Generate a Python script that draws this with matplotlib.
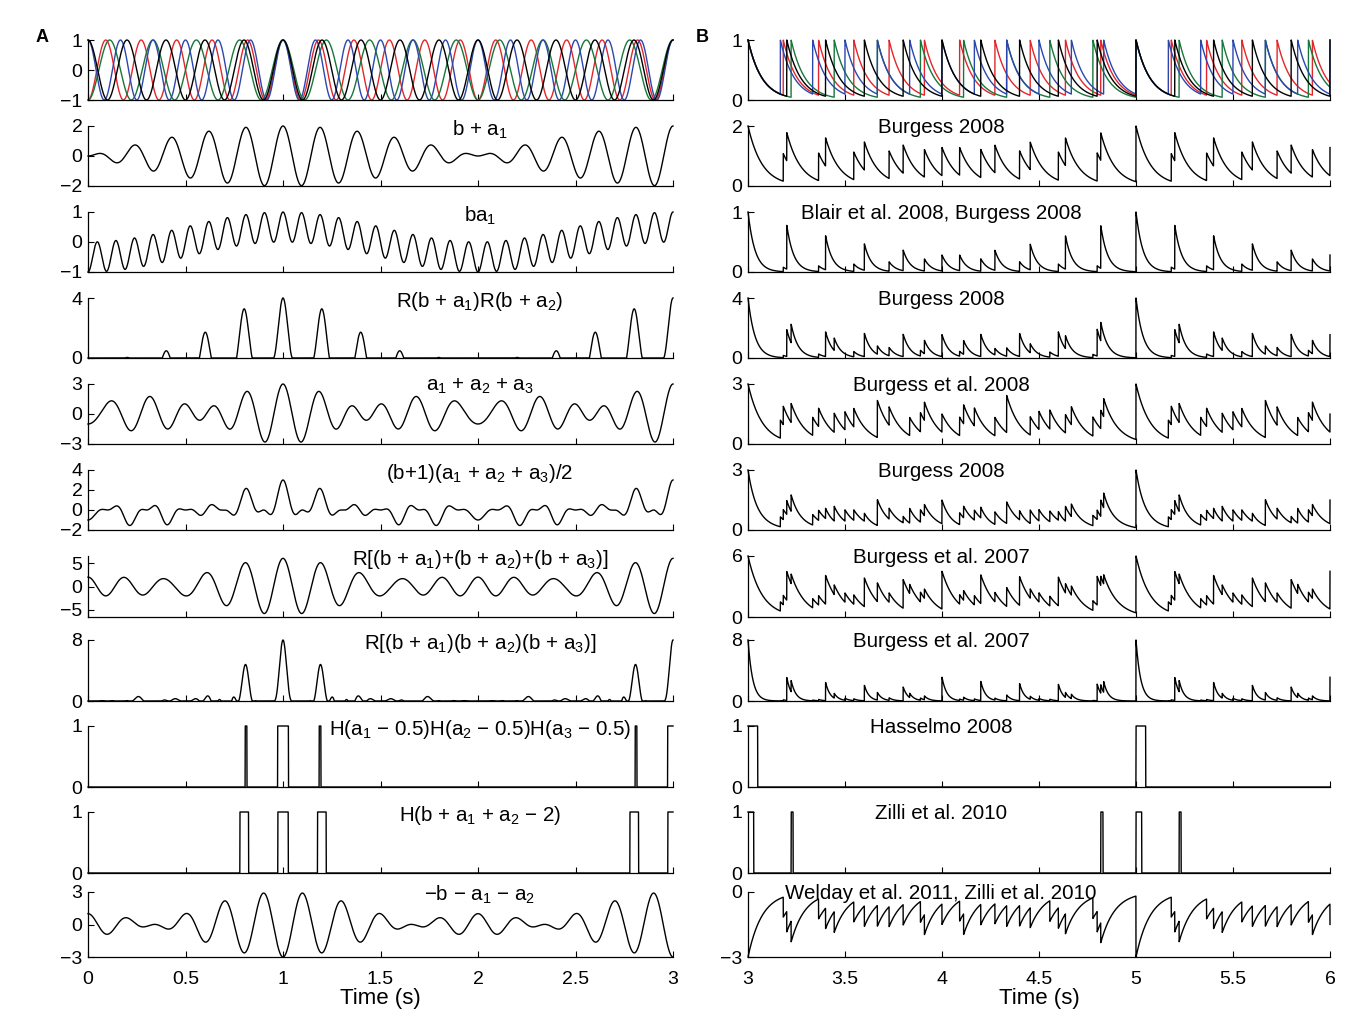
import numpy as np
import matplotlib
matplotlib.use("Agg")
import matplotlib.pyplot as plt

plt.rcParams['font.family'] = ['Liberation Sans', 'DejaVu Sans']
plt.rcParams['mathtext.default'] = 'regular'
plt.rcParams['font.size'] = 14

# oscillator frequencies (Hz); all in phase at t = 1, 3, 5 s
f_b = 5.0
f_a1 = 5.5
f_a2 = 4.5
f_a3 = 6.0
t_align = 1.0
tau = 0.072          # decay time of the phase-reset traces in B (s)

col_b = 'k'
col_a1 = '#e3262b'
col_a2 = '#17773a'
col_a3 = '#2b47ad'

titles_A = [None, 'b + a$_1$', 'ba$_1$', 'R(b + a$_1$)R(b + a$_2$)',
            'a$_1$ + a$_2$ + a$_3$', '(b+1)(a$_1$ + a$_2$ + a$_3$)/2',
            'R[(b + a$_1$)+(b + a$_2$)+(b + a$_3$)]',
            'R[(b + a$_1$)(b + a$_2$)(b + a$_3$)]',
            'H(a$_1$ \u2212 0.5)H(a$_2$ \u2212 0.5)H(a$_3$ \u2212 0.5)',
            'H(b + a$_1$ + a$_2$ \u2212 2)',
            '\u2212b \u2212 a$_1$ \u2212 a$_2$']
titles_B = [None, 'Burgess 2008', 'Blair et al. 2008, Burgess 2008', 'Burgess 2008',
            'Burgess et al. 2008', 'Burgess 2008', 'Burgess et al. 2007',
            'Burgess et al. 2007', 'Hasselmo 2008', 'Zilli et al. 2010',
            'Welday et al. 2011, Zilli et al. 2010']

yticks_A = [[-1, 0, 1], [-2, 0, 2], [-1, 0, 1], [0, 4], [-3, 0, 3], [-2, 0, 2, 4],
            [-5, 0, 5], [0, 8], [0, 1], [0, 1], [-3, 0, 3]]
ylims_A = [(-1, 1), (-2, 2), (-1, 1), (0, 4), (-3, 3), (-2, 4), (-6.5, 6.5),
           (0, 8), (0, 1), (0, 1), (-3, 3)]
yticks_B = [[0, 1], [0, 2], [0, 1], [0, 4], [0, 3], [0, 3], [0, 6], [0, 8],
            [0, 1], [0, 1], [-3, 0]]
ylims_B = [(0, 1), (0, 2), (0, 1), (0, 4), (0, 3), (0, 3), (0, 6), (0, 8),
           (0, 1), (0, 1), (-3, 0)]

xticks_A = [0, 0.5, 1, 1.5, 2, 2.5, 3]
xlabels_A = ['0', '0.5', '1', '1.5', '2', '2.5', '3']
xticks_B = [3, 3.5, 4, 4.5, 5, 5.5, 6]
xlabels_B = ['3', '3.5', '4', '4.5', '5', '5.5', '6']

# row layout in pixels (top, height)
row_tops = [40, 126, 212, 298, 384, 470, 556, 640, 726, 812, 892]
row_h = [60, 60, 60, 60, 60, 60, 61, 61, 61, 61, 65]

W, Hpx = 1354, 1014

t_A = np.arange(0, 3.0 + 1e-9, 0.0005)
t_B = np.arange(3.0, 6.0 + 1e-9, 0.0005)


def osc(f, t):
    return np.cos(2 * np.pi * f * (t - t_align))


def reset(f, t):
    ph = f * (t - t_align) + 1e-7
    s = (ph - np.floor(ph)) / f
    return np.exp(-s / tau)


def R(x):
    return np.maximum(x, 0)


def H(x):
    return (x > 0).astype(float)


def rows(b, a1, a2, a3):
    return [None,
            b + a1,
            b * a1,
            R(b + a1) * R(b + a2),
            a1 + a2 + a3,
            (b + 1) * (a1 + a2 + a3) / 2,
            (b + a1) + (b + a2) + (b + a3),
            R((b + a1) * (b + a2) * (b + a3)),
            H(a1 - 0.5) * H(a2 - 0.5) * H(a3 - 0.5),
            H(b + a1 + a2 - 2),
            -b - a1 - a2]


fig = plt.figure(figsize=(W / 100, Hpx / 100), dpi=100)

panels = [
    (88, 673, t_A, osc, titles_A, yticks_A, ylims_A, xticks_A, xlabels_A, (0, 3), 0.67),
    (748, 1330, t_B, reset, titles_B, yticks_B, ylims_B, xticks_B, xlabels_B, (3, 6), 0.332),
]

for (x0, x1, t, fn, titles, yt, yl, xt, xl, xlim, tx) in panels:
    b, a1, a2, a3 = fn(f_b, t), fn(f_a1, t), fn(f_a2, t), fn(f_a3, t)
    sigs = rows(b, a1, a2, a3)
    for k in range(11):
        ax = fig.add_axes([x0 / W, 1 - (row_tops[k] + row_h[k]) / Hpx,
                           (x1 - x0) / W, row_h[k] / Hpx])
        if k == 0:
            for y, c in [(a1, col_a1), (a2, col_a2), (a3, col_a3), (b, col_b)]:
                ax.plot(t, y, color=c, lw=1.0, clip_on=False)
        else:
            ax.plot(t, sigs[k], color='k', lw=1.0, clip_on=False)
            ax.text(tx, 1.13, titles[k], transform=ax.transAxes,
                    ha='center', va='top', fontsize=14.8)
        ax.set_xlim(*xlim)
        ax.set_ylim(*yl[k])
        ax.set_yticks(yt[k])
        ax.set_xticks(xt)
        ax.tick_params(direction='in', length=4, width=0.8, labelsize=14, pad=4)
        if k == 10:
            ax.set_xticklabels(xl)
            ax.tick_params(axis='x', pad=10)
            ax.set_xlabel('Time (s)', fontsize=16, labelpad=0)
        else:
            ax.set_xticklabels([])
        for sp in ['top', 'right']:
            ax.spines[sp].set_visible(False)
        for sp in ['left', 'bottom']:
            ax.spines[sp].set_linewidth(0.9)

fig.text(36 / W, 1 - 38 / Hpx, 'A', fontsize=13, fontweight='bold', va='center')
fig.text(696 / W, 1 - 38 / Hpx, 'B', fontsize=13, fontweight='bold', va='center')

fig.savefig('out.png', dpi=100)
